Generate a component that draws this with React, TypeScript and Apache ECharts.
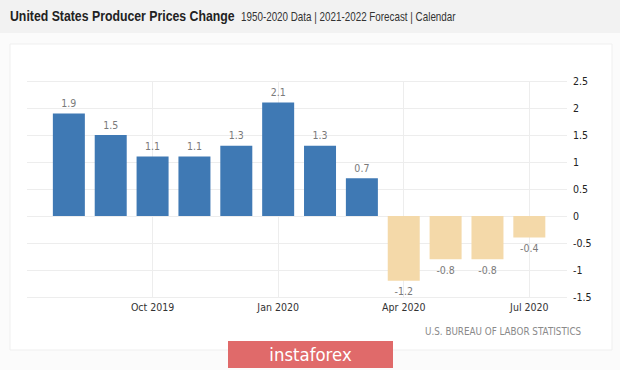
import React, { useEffect, useRef } from "react";
import * as echarts from "echarts";

const categories = [
  "Aug 2019", "Sep 2019", "Oct 2019", "Nov 2019", "Dec 2019", "Jan 2020",
  "Feb 2020", "Mar 2020", "Apr 2020", "May 2020", "Jun 2020", "Jul 2020",
];
const values = [1.9, 1.5, 1.1, 1.1, 1.3, 2.1, 1.3, 0.7, -1.2, -0.8, -0.8, -0.4];
const forecastFlags = [false, false, false, false, false, false, false, false, true, true, true, true];
const labelIndices = [2, 5, 8, 11];
const yTicks = [-1.5, -1, -0.5, 0, 0.5, 1, 1.5, 2, 2.5];

const BLUE = "#3f79b4";
const BEIGE = "#f4d9a9";

export default function App() {
  const ref = useRef<HTMLDivElement>(null);
  useEffect(() => {
    if (!ref.current) return;
    const chart = echarts.init(ref.current, undefined, { renderer: "svg" });
    const font = "'DejaVu Sans Condensed', 'DejaVu Sans'";
    chart.setOption({
      animation: false,
      backgroundColor: "#fbfbfb",
      graphic: [
        { type: "rect", shape: { x: 0, y: 0, width: 620, height: 33 }, style: { fill: "#f2f2f2" }, z: -10 },
        { type: "rect", shape: { x: 10, y: 44, width: 602, height: 306 }, style: { fill: "#ffffff", stroke: "#efefef", lineWidth: 1 }, z: -10 },
        {
          type: "text", x: 10, y: 9, scaleX: 0.82,
          style: { text: "United States Producer Prices Change", fontFamily: "Liberation Sans", fontWeight: "bold", fontSize: 15, fill: "#222" },
        },
        {
          type: "text", x: 241, y: 11, scaleX: 0.82,
          style: { text: "1950-2020 Data | 2021-2022 Forecast | Calendar", fontFamily: "Liberation Sans", fontSize: 12, fill: "#333" },
        },
        {
          type: "text", x: 425, y: 326, scaleX: 0.88,
          style: { text: "U.S. BUREAU OF LABOR STATISTICS", fontFamily: "DejaVu Sans", fontSize: 10, fill: "#8a8a8a" },
        },
        {
          type: "group", x: 228, y: 341,
          children: [
            { type: "rect", shape: { x: 0, y: 0, width: 165, height: 27 }, style: { fill: "#e06a6a" } },
            {
              type: "text", x: 82.5, y: 13.5, scaleX: 0.92,
              style: { text: "instaforex", fontFamily: "DejaVu Sans", fontSize: 18, fill: "#fff", align: "center", verticalAlign: "middle" },
            },
          ],
        },
      ],
      grid: { left: 27, right: 53, top: 81, height: 216 },
      xAxis: {
        type: "value",
        min: -1,
        max: 11.9,
        interval: 1,
        axisLine: { show: false },
        axisTick: { show: false },
        splitLine: { show: false },
        axisLabel: {
          customValues: labelIndices,
          formatter: (v: number) => categories[Math.round(v)] ?? "",
          color: "#333",
          fontFamily: font,
          fontSize: 10.5,
          margin: 4,
        },
      },
      yAxis: {
        type: "value",
        position: "right",
        min: yTicks[0],
        max: yTicks[yTicks.length - 1],
        interval: 0.5,
        axisLine: { show: false },
        axisTick: { show: false },
        axisLabel: { color: "#222", fontFamily: font, fontSize: 10.5, margin: 6 },
        splitLine: { lineStyle: { color: "#ededed", width: 1 } },
      },
      series: [
        {
          type: "bar",
          barWidth: 32,
          data: values.map((v, i) => ({
            value: [i, v],
            itemStyle: { color: forecastFlags[i] ? BEIGE : BLUE },
            label: { position: v < 0 ? "bottom" : "top" },
          })),
          label: {
            show: true,
            formatter: (p: any) => String(p.value[1]),
            color: "#7a7a7a",
            fontFamily: font,
            fontSize: 10.5,
            distance: 5,
          },
          markLine: {
            silent: true,
            symbol: "none",
            label: { show: false },
            lineStyle: { color: "#ededed", type: "solid", width: 1 },
            data: labelIndices.map((i) => ({ xAxis: i })),
            z: 0,
          },
        },
      ],
    });
    return () => chart.dispose();
  }, []);
  return (
    <div style={{ position: "fixed", left: 0, top: 0, width: 620, height: 370 }}>
      <div ref={ref} style={{ width: 620, height: 370 }} />
    </div>
  );
}
